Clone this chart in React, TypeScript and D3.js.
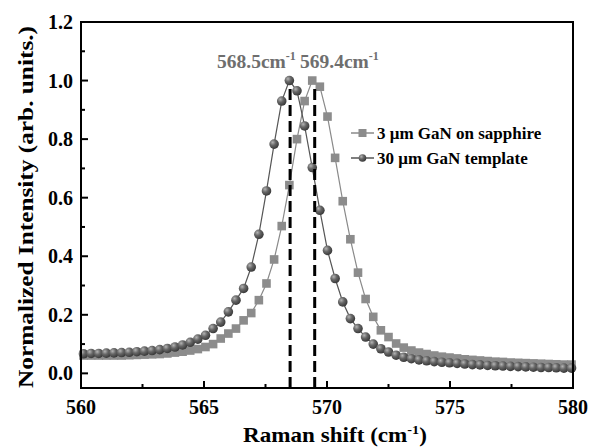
import React, { useEffect, useRef } from 'react';
import * as d3 from 'd3';

// Raman shift positions (cm^-1), shared by both spectra
const shiftValues = [
    560.10, 560.41, 560.72, 561.03, 561.34, 561.65, 561.96, 562.27, 562.58, 562.89,
    563.20, 563.51, 563.82, 564.13, 564.44, 564.75, 565.06, 565.37, 565.68, 565.99,
    566.30, 566.61, 566.92, 567.23, 567.54, 567.85, 568.16, 568.47, 568.78, 569.09,
    569.40, 569.71, 570.02, 570.33, 570.64, 570.95, 571.26, 571.57, 571.88, 572.19,
    572.50, 572.81, 573.12, 573.43, 573.74, 574.05, 574.36, 574.67, 574.98, 575.29,
    575.60, 575.91, 576.22, 576.53, 576.84, 577.15, 577.46, 577.77, 578.08, 578.39,
    578.70, 579.01, 579.32, 579.63, 579.94,
];

// 3 um GaN on sapphire (squares)
const sapphireValues = [
    0.061, 0.061, 0.061, 0.061, 0.061, 0.061, 0.062, 0.063, 0.064, 0.065,
    0.066, 0.068, 0.071, 0.074, 0.078, 0.083, 0.090, 0.100, 0.119, 0.136,
    0.153, 0.181, 0.206, 0.250, 0.307, 0.389, 0.503, 0.643, 0.800, 0.930,
    1.000, 0.979, 0.877, 0.736, 0.588, 0.458, 0.344, 0.254, 0.193, 0.147,
    0.124, 0.102, 0.088, 0.078, 0.071, 0.066, 0.061, 0.057, 0.054, 0.051,
    0.048, 0.046, 0.044, 0.042, 0.040, 0.039, 0.037, 0.036, 0.035, 0.034,
    0.033, 0.032, 0.031, 0.030, 0.030,
];

// 30 um GaN template (spheres)
const templateValues = [
    0.067, 0.068, 0.068, 0.069, 0.070, 0.071, 0.072, 0.074, 0.076, 0.078,
    0.081, 0.085, 0.090, 0.097, 0.106, 0.117, 0.130, 0.153, 0.175, 0.210,
    0.250, 0.290, 0.363, 0.475, 0.623, 0.783, 0.930, 1.000, 0.965, 0.845,
    0.703, 0.557, 0.420, 0.324, 0.244, 0.187, 0.153, 0.124, 0.100, 0.084,
    0.073, 0.062, 0.055, 0.050, 0.046, 0.043, 0.040, 0.038, 0.036, 0.034,
    0.032, 0.030, 0.029, 0.027, 0.026, 0.025, 0.024, 0.023, 0.022, 0.021,
    0.020, 0.020, 0.019, 0.018, 0.018,
];

const peakPositions = [568.5, 569.5];
const peakLabels = ['568.5cm', '569.4cm'];
const legendLabels = ['3 \u03bcm GaN on sapphire', '30 \u03bcm GaN template'];

const xMajorTicks = [560, 565, 570, 575, 580];
const xMinorTicks = [562.5, 567.5, 572.5, 577.5];
const yMajorTicks = [0, 0.2, 0.4, 0.6, 0.8, 1.0, 1.2];
const yMinorTicks = [0.1, 0.3, 0.5, 0.7, 0.9, 1.1];

const FONT = '"Liberation Serif", "Times New Roman", serif';

const App = () => {
    const svgRef = useRef<SVGSVGElement>(null);

    useEffect(() => {
        const width = 589;
        const height = 448;
        const left = 81, right = 573, top = 22, bottom = 388;

        const x = d3.scaleLinear().domain([560, 580]).range([left, right]);
        const y = d3.scaleLinear().domain([-0.05, 1.2]).range([bottom, top]);

        const svg = d3.select(svgRef.current)
            .attr('width', width)
            .attr('height', height);
        svg.selectAll('*').remove();

        const defs = svg.append('defs');
        const grad = defs.append('radialGradient')
            .attr('id', 'ball')
            .attr('cx', '35%').attr('cy', '32%').attr('r', '70%');
        grad.append('stop').attr('offset', '0%').attr('stop-color', '#b4b4b4');
        grad.append('stop').attr('offset', '45%').attr('stop-color', '#676767');
        grad.append('stop').attr('offset', '100%').attr('stop-color', '#383838');

        svg.append('rect')
            .attr('width', width).attr('height', height)
            .attr('fill', 'white');

        const sapphire = shiftValues.map((s, i) => ({ s, v: sapphireValues[i] }));
        const template = shiftValues.map((s, i) => ({ s, v: templateValues[i] }));

        const line = d3.line<{ s: number; v: number }>()
            .x(d => x(d.s))
            .y(d => y(d.v));

        const plot = svg.append('g');

        // squares series
        plot.append('path')
            .datum(sapphire)
            .attr('d', line)
            .attr('fill', 'none')
            .attr('stroke', '#8a8a8a')
            .attr('stroke-width', 1.2);
        plot.selectAll('rect.sq')
            .data(sapphire)
            .join('rect')
            .attr('class', 'sq')
            .attr('x', d => x(d.s) - 4.3)
            .attr('y', d => y(d.v) - 4.3)
            .attr('width', 8.6)
            .attr('height', 8.6)
            .attr('fill', '#8c8c8c');

        // spheres series
        plot.append('path')
            .datum(template)
            .attr('d', line)
            .attr('fill', 'none')
            .attr('stroke', '#555')
            .attr('stroke-width', 1.2);
        plot.selectAll('circle.ball')
            .data(template)
            .join('circle')
            .attr('class', 'ball')
            .attr('cx', d => x(d.s))
            .attr('cy', d => y(d.v))
            .attr('r', 4.8)
            .attr('fill', 'url(#ball)');

        // dashed peak markers
        plot.selectAll('line.peak')
            .data(peakPositions)
            .join('line')
            .attr('class', 'peak')
            .attr('x1', d => x(d)).attr('x2', d => x(d))
            .attr('y1', y(-0.05)).attr('y2', y(0.985))
            .attr('stroke', '#000')
            .attr('stroke-width', 3)
            .attr('stroke-dasharray', '11,5');

        // peak labels
        const peakText = svg.selectAll('text.peakLabel')
            .data(peakLabels)
            .join('text')
            .attr('class', 'peakLabel')
            .attr('x', (d, i) => (i === 0 ? 217 : 300))
            .attr('y', 68)
            .attr('font-family', FONT)
            .attr('font-weight', 'bold')
            .attr('font-size', 19.5)
            .attr('fill', '#6e6e6e');
        peakText.append('tspan').text(d => d);
        peakText.append('tspan')
            .attr('dy', -8)
            .attr('font-size', 12)
            .text('-1');

        // axes box
        svg.append('rect')
            .attr('x', left).attr('y', top)
            .attr('width', right - left).attr('height', bottom - top)
            .attr('fill', 'none')
            .attr('stroke', '#000')
            .attr('stroke-width', 2);

        const ticks = svg.append('g').attr('stroke', '#000').attr('stroke-width', 2);
        ticks.selectAll('line.xmaj').data(xMajorTicks).join('line')
            .attr('x1', d => x(d)).attr('x2', d => x(d))
            .attr('y1', bottom).attr('y2', bottom - 7);
        ticks.selectAll('line.xmin').data(xMinorTicks).join('line')
            .attr('class', 'xmin')
            .attr('x1', d => x(d)).attr('x2', d => x(d))
            .attr('y1', bottom).attr('y2', bottom - 4);
        ticks.selectAll('line.ymaj').data(yMajorTicks).join('line')
            .attr('class', 'ymaj')
            .attr('x1', left).attr('x2', left + 7)
            .attr('y1', d => y(d)).attr('y2', d => y(d));
        ticks.selectAll('line.ymin').data(yMinorTicks).join('line')
            .attr('class', 'ymin')
            .attr('x1', left).attr('x2', left + 4)
            .attr('y1', d => y(d)).attr('y2', d => y(d));

        svg.selectAll('text.xtick')
            .data(xMajorTicks)
            .join('text')
            .attr('class', 'xtick')
            .attr('x', d => x(d))
            .attr('y', 414)
            .attr('text-anchor', 'middle')
            .attr('font-family', FONT)
            .attr('font-weight', 'bold')
            .attr('font-size', 20)
            .text(d => d);

        svg.selectAll('text.ytick')
            .data(yMajorTicks)
            .join('text')
            .attr('class', 'ytick')
            .attr('x', 73)
            .attr('y', d => y(d))
            .attr('dy', '0.35em')
            .attr('text-anchor', 'end')
            .attr('font-family', FONT)
            .attr('font-weight', 'bold')
            .attr('font-size', 20)
            .text(d => d3.format('.1f')(d));

        // axis titles
        const xTitle = svg.append('text')
            .attr('x', 335)
            .attr('y', 442)
            .attr('text-anchor', 'middle')
            .attr('font-family', FONT)
            .attr('font-weight', 'bold')
            .attr('font-size', 21)
            .attr('textLength', 184)
            .attr('lengthAdjust', 'spacingAndGlyphs');
        xTitle.append('tspan').text('Raman shift (cm');
        xTitle.append('tspan').attr('dy', -8).attr('font-size', 13).text('-1');
        xTitle.append('tspan').attr('dy', 8).text(')');

        svg.append('text')
            .attr('transform', `translate(33, ${(top + bottom) / 2 + 2}) rotate(-90)`)
            .attr('text-anchor', 'middle')
            .attr('font-family', FONT)
            .attr('font-weight', 'bold')
            .attr('font-size', 22)
            .attr('textLength', 362)
            .attr('lengthAdjust', 'spacingAndGlyphs')
            .text('Normalized Intensity (arb. units.)');

        // legend
        const legend = svg.append('g').attr('transform', 'translate(351, 133)');
        legendLabels.forEach((label, i) => {
            const row = legend.append('g').attr('transform', `translate(0, ${i * 25})`);
            row.append('line')
                .attr('x1', 0).attr('x2', 23)
                .attr('stroke', i === 0 ? '#8a8a8a' : '#555')
                .attr('stroke-width', 1.5);
            if (i === 0) {
                row.append('rect')
                    .attr('x', 7.5).attr('y', -4)
                    .attr('width', 8).attr('height', 8)
                    .attr('fill', '#8c8c8c');
            } else {
                row.append('circle')
                    .attr('cx', 11.5).attr('r', 3.8)
                    .attr('fill', 'url(#ball)');
            }
            row.append('text')
                .attr('x', 26)
                .attr('dy', '0.35em')
                .attr('font-family', FONT)
                .attr('font-weight', 'bold')
                .attr('font-size', 17)
                .text(label);
        });
    }, []);

    return <svg ref={svgRef} style={{ position: 'absolute', left: 0, top: 0 }}></svg>;
};

export default App;
